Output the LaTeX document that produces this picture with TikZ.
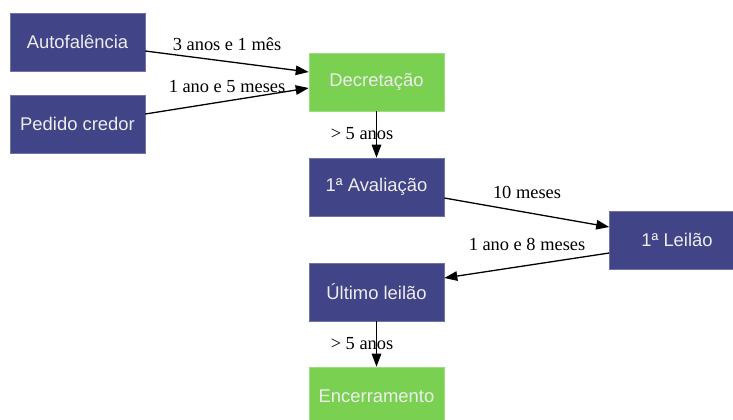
\documentclass[tikz,border=0pt]{standalone}
\usepackage{fontspec}
\setmainfont{Liberation Serif}
\newfontfamily\nodefont{Liberation Sans}
\usetikzlibrary{arrows.meta}
\definecolor{dkblue}{HTML}{414487}
\definecolor{ltgreen}{HTML}{7AD151}
\tikzset{
  box/.style={rectangle, minimum width=135pt, minimum height=58pt, inner sep=0pt,
    text=white!93!black, font=\nodefont\fontsize{18.4}{20}\selectfont, line width=0.6pt},
  bluebox/.style={box, fill=dkblue, draw=dkblue!75!white},
  greenbox/.style={box, fill=ltgreen, draw=ltgreen!75!white},
  conn/.style={draw=black, line width=1.3pt, -{Triangle[length=13pt,width=9.5pt]}},
  lbl/.style={font=\fontsize{18.4}{20}\selectfont, inner sep=0pt, text=black}
}
\begin{document}
\begin{tikzpicture}[x=1pt,y=-1pt]
\useasboundingbox (0,0) rectangle (733,420);
\clip (0,0) rectangle (733,420);
\node[bluebox] (auto) at (77.5,42) {Autofalência};
\node[bluebox] (ped) at (77.5,124) {Pedido credor};
\node[greenbox] (decr) at (376.5,82) {Decretação};
\node[bluebox] (aval) at (376.5,187) {1ª Avaliação};
\node[bluebox] (leil) at (677,240) {1ª Leilão};
\node[bluebox] (ult) at (376.5,292) {Último leilão};
\node[greenbox] (enc) at (376.5,396) {Encerramento};

\draw[conn] ([yshift=-9pt]auto.east) -- ([yshift=10pt]decr.west);
\draw[conn] ([yshift=10pt]ped.east) -- ([yshift=-6pt]decr.west);
\draw[conn] (decr.south) -- (aval.north);
\draw[conn] ([yshift=-11pt]aval.east) -- ([yshift=13pt]leil.west);
\draw[conn] ([yshift=-13pt]leil.west) -- ([yshift=14pt]ult.east);
\draw[conn] (ult.south) -- (enc.north);

\node[lbl] (l1) at (227,44) {3 anos e 1 mês};
\node[lbl] (l2) at (227,87) {1 ano e 5 meses};
\node[lbl] (l3) at (362,134) {> 5 anos};
\node[lbl] (l4) at (527,192) {10 meses};
\node[lbl] (l5) at (527,244) {1 ano e 8 meses};
\node[lbl] (l6) at (362,344) {> 5 anos};
\end{tikzpicture}
\end{document}
